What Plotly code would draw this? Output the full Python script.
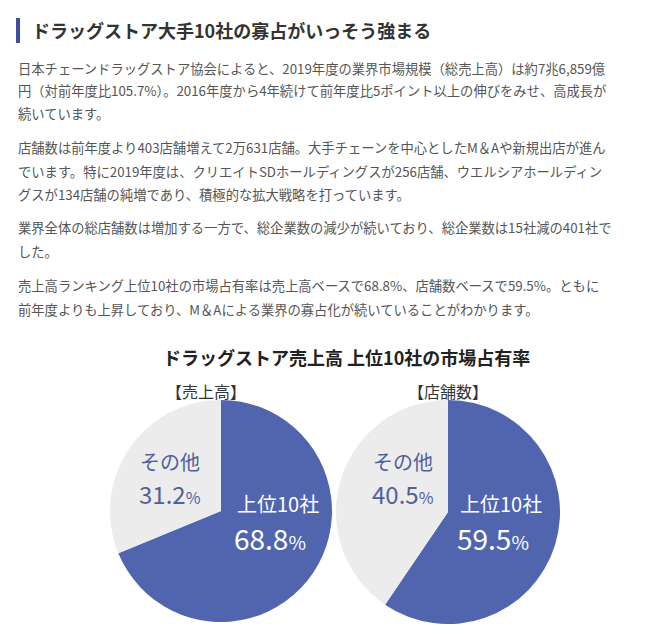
import plotly.graph_objects as go

W, H = 658, 643

heading = "ドラッグストア大手10社の寡占がいっそう強まる"
paragraphs = [
    ["日本チェーンドラッグストア協会によると、2019年度の業界市場規模（総売上高）は約7兆6,859億",
     "円（対前年度比105.7%）。2016年度から4年続けて前年度比5ポイント以上の伸びをみせ、高成長が",
     "続いています。"],
    ["店舗数は前年度より403店舗増えて2万631店舗。大手チェーンを中心としたM＆Aや新規出店が進ん",
     "でいます。特に2019年度は、クリエイトSDホールディングスが256店舗、ウエルシアホールディン",
     "グスが134店舗の純増であり、積極的な拡大戦略を打っています。"],
    ["業界全体の総店舗数は増加する一方で、総企業数の減少が続いており、総企業数は15社減の401社で",
     "した。"],
    ["売上高ランキング上位10社の市場占有率は売上高ベースで68.8%、店舗数ベースで59.5%。ともに",
     "前年度よりも上昇しており、M＆Aによる業界の寡占化が続いていることがわかります。"],
]
chart_title = "ドラッグストア売上高 上位10社の市場占有率"
pie_titles = ["【売上高】", "【店舗数】"]
labels = ["上位10社", "その他"]
sales_share = [68.8, 31.2]
store_share = [59.5, 40.5]

BLUE = "#5065ae"
GREY = "#ececec"
FONT = "Noto Sans CJK JP"

def px(x):
    return x / W

def py(y):
    return 1 - y / H

fig = go.Figure()

# domains padded a little because plotly shrinks the circle inside its domain
pies = [(sales_share, 102, 324, 392, 614), (store_share, 328, 552, 392, 616)]
for vals, x0, x1, y0, y1 in pies:
    fig.add_trace(go.Pie(
        labels=labels, values=vals, sort=False, direction="clockwise",
        marker=dict(colors=[BLUE, GREY], line=dict(width=0)),
        textinfo="none", hoverinfo="label+percent", showlegend=False,
        domain=dict(x=[px(x0), px(x1)], y=[py(y1), py(y0)]),
    ))

ann = []
ann.append(dict(x=px(22), y=py(22), text=f"<b>{heading}</b>", xanchor="left",
                font=dict(size=18, color="#333333")))
line_y = [[60, 83, 105], [140, 163, 186], [220, 243], [278, 301]]
for para, ys in zip(paragraphs, line_y):
    for line, y in zip(para, ys):
        ann.append(dict(x=px(8), y=py(y), text=line, xanchor="left",
                        font=dict(size=13.3, color="#555555")))
ann.append(dict(x=px(338), y=py(349), text=f"<b>{chart_title}</b>",
                font=dict(size=18, color="#222222")))
ann.append(dict(x=px(198), y=py(383), text=pie_titles[0], font=dict(size=16, color="#333333")))
ann.append(dict(x=px(440), y=py(383), text=pie_titles[1], font=dict(size=16, color="#333333")))

def pct(v, big):
    return f"{v}<span style='font-size:{int(big*0.7)}px'>%</span>"

inner = [(sales_share, 270, 162), (store_share, 493, 395)]
for vals, xb, xo in inner:
    ann.append(dict(x=px(xb), y=py(495), text=labels[0], font=dict(size=20, color="white")))
    ann.append(dict(x=px(xb - 8), y=py(530), text=pct(vals[0], 28), font=dict(size=28, color="white")))
    ann.append(dict(x=px(xo), y=py(453), text=labels[1], font=dict(size=20, color="#52609c")))
    ann.append(dict(x=px(xo), y=py(485), text=pct(vals[1], 24), font=dict(size=24, color="#52609c")))

for a in ann:
    a.update(xref="paper", yref="paper", showarrow=False, yanchor="middle")
    a.setdefault("xanchor", "center")

fig.update_layout(
    width=W, height=H, margin=dict(l=0, r=0, t=0, b=0),
    paper_bgcolor="white", plot_bgcolor="white",
    font=dict(family=FONT), annotations=ann,
    shapes=[dict(type="rect", xref="paper", yref="paper",
                 x0=px(8), x1=px(12), y0=py(35), y1=py(10),
                 fillcolor="#3f4f9f", line=dict(width=0))],
)

fig.write_html("out.html")
